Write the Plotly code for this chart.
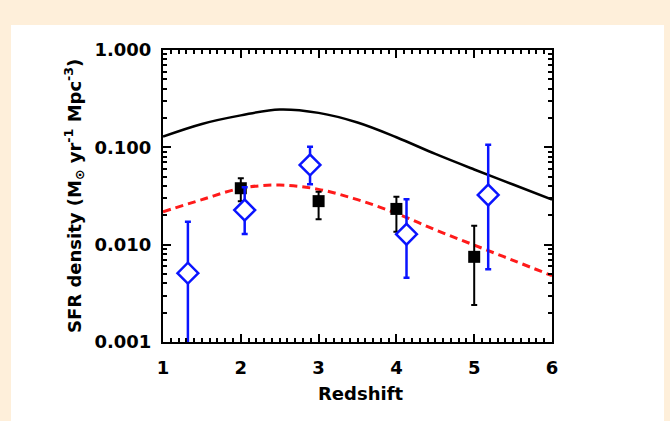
import plotly.graph_objects as go

# Model star-formation-rate density curves (sampled along redshift)
model_z = [1.0, 1.5, 2.0, 2.5, 3.0, 3.5, 4.0, 4.5, 5.0, 5.5, 6.0]
model_total = [0.129, 0.174, 0.213, 0.245, 0.226, 0.180, 0.127, 0.0855, 0.0592, 0.0415, 0.029]
model_scaled = [0.0218, 0.029, 0.0379, 0.041, 0.037, 0.029, 0.021, 0.0142, 0.0099, 0.0069, 0.0048]

# Measurements: black squares
sq_z = [2.0, 3.0, 4.0, 5.0]
sq_sfr = [0.038, 0.028, 0.0233, 0.0075]
sq_hi = [0.048, 0.035, 0.0311, 0.0156]
sq_lo = [0.028, 0.0182, 0.0136, 0.0024]

# Measurements: blue diamonds
dm_z = [1.32, 2.05, 2.89, 4.13, 5.18]
dm_sfr = [0.0051, 0.0227, 0.066, 0.0128, 0.0324]
dm_hi = [0.0172, 0.0389, 0.1016, 0.0292, 0.106]
dm_lo = [0.0006, 0.0129, 0.0417, 0.00458, 0.00558]

x_ticks = [1, 2, 3, 4, 5, 6]
y_ticks = [0.001, 0.01, 0.1, 1.0]
y_tick_text = ["0.001", "0.010", "0.100", "1.000"]

# minor tick positions: tenths in redshift, 2..9 within each decade
x_minor = [round(1 + i * 0.1, 2) for i in range(51) if i % 10 != 0]
y_minor = [m * 10.0 ** e for e in (-3, -2, -1) for m in range(2, 10)]

FONT = "DejaVu Sans"

fig = go.Figure()

fig.add_trace(go.Scatter(x=model_z, y=model_total, mode="lines",
                         line=dict(color="black", width=2.5, shape="spline"),
                         hoverinfo="skip"))
fig.add_trace(go.Scatter(x=model_z, y=model_scaled, mode="lines",
                         line=dict(color="#ff1a1a", width=3, shape="spline", dash="8px,5px"),
                         hoverinfo="skip"))

fig.add_trace(go.Scatter(
    x=sq_z, y=sq_sfr, mode="markers",
    marker=dict(symbol="square", size=12, color="black"),
    error_y=dict(type="data", symmetric=False,
                 array=[h - v for h, v in zip(sq_hi, sq_sfr)],
                 arrayminus=[v - l for l, v in zip(sq_lo, sq_sfr)],
                 color="black", thickness=2, width=3),
))

fig.add_trace(go.Scatter(
    x=dm_z, y=dm_sfr, mode="markers",
    marker=dict(symbol="diamond", size=16, color="white",
                line=dict(color="#0a14ff", width=2.5)),
    error_y=dict(type="data", symmetric=False,
                 array=[h - v for h, v in zip(dm_hi, dm_sfr)],
                 arrayminus=[v - l for l, v in zip(dm_lo, dm_sfr)],
                 color="#0a14ff", thickness=2.5, width=3),
))

L, R, T, B = 163, 118, 50, 79
W, H = 670, 421
pw, ph = W - L - R, H - T - B

def px(xp):
    return (xp - L) / pw

def py(yp):
    return (H - B - yp) / ph

fig.update_layout(
    width=W, height=H,
    margin=dict(l=L, r=R, t=T, b=B, pad=0),
    paper_bgcolor="#feefda",
    plot_bgcolor="white",
    showlegend=False,
    font=dict(family=FONT, size=18, color="black", weight="bold"),
    shapes=[dict(type="rect", xref="paper", yref="paper",
                 x0=px(11), x1=px(664), y0=py(421), y1=py(25),
                 fillcolor="white", line=dict(width=0), layer="below")],
    annotations=[
        dict(text="Redshift", xref="paper", yref="paper",
             x=px(360), y=py(393), xanchor="center", yanchor="middle",
             showarrow=False, font=dict(family=FONT, size=18, weight="bold")),
        dict(text="SFR density (M<sub>\u2299</sub> yr<sup>-1</sup> Mpc<sup>-3</sup>)",
             xref="paper", yref="paper", textangle=-90,
             x=px(74), y=py(196), xanchor="center", yanchor="middle",
             showarrow=False, font=dict(family=FONT, size=18, weight="bold")),
    ],
)

fig.update_xaxes(
    range=[1, 6], tickvals=x_ticks, ticktext=[str(v) for v in x_ticks],
    showgrid=False, zeroline=False,
    showline=True, linecolor="black", linewidth=2, mirror="allticks",
    ticks="inside", ticklen=8, tickwidth=1.5, tickcolor="black",
    ticklabelstandoff=8,
    minor=dict(tickmode="array", tickvals=x_minor, ticks="inside", ticklen=4,
               tickwidth=1.5, tickcolor="black", showgrid=False),
)

fig.update_yaxes(
    type="log", range=[-3, 0], tickvals=y_ticks, ticktext=y_tick_text,
    showgrid=False, zeroline=False,
    showline=True, linecolor="black", linewidth=2, mirror="allticks",
    ticks="inside", ticklen=8, tickwidth=1.5, tickcolor="black",
    ticklabelstandoff=6,
    minor=dict(tickmode="array", tickvals=y_minor, ticks="inside", ticklen=4,
               tickwidth=1.5, tickcolor="black", showgrid=False),
)

fig.write_html("out.html")
